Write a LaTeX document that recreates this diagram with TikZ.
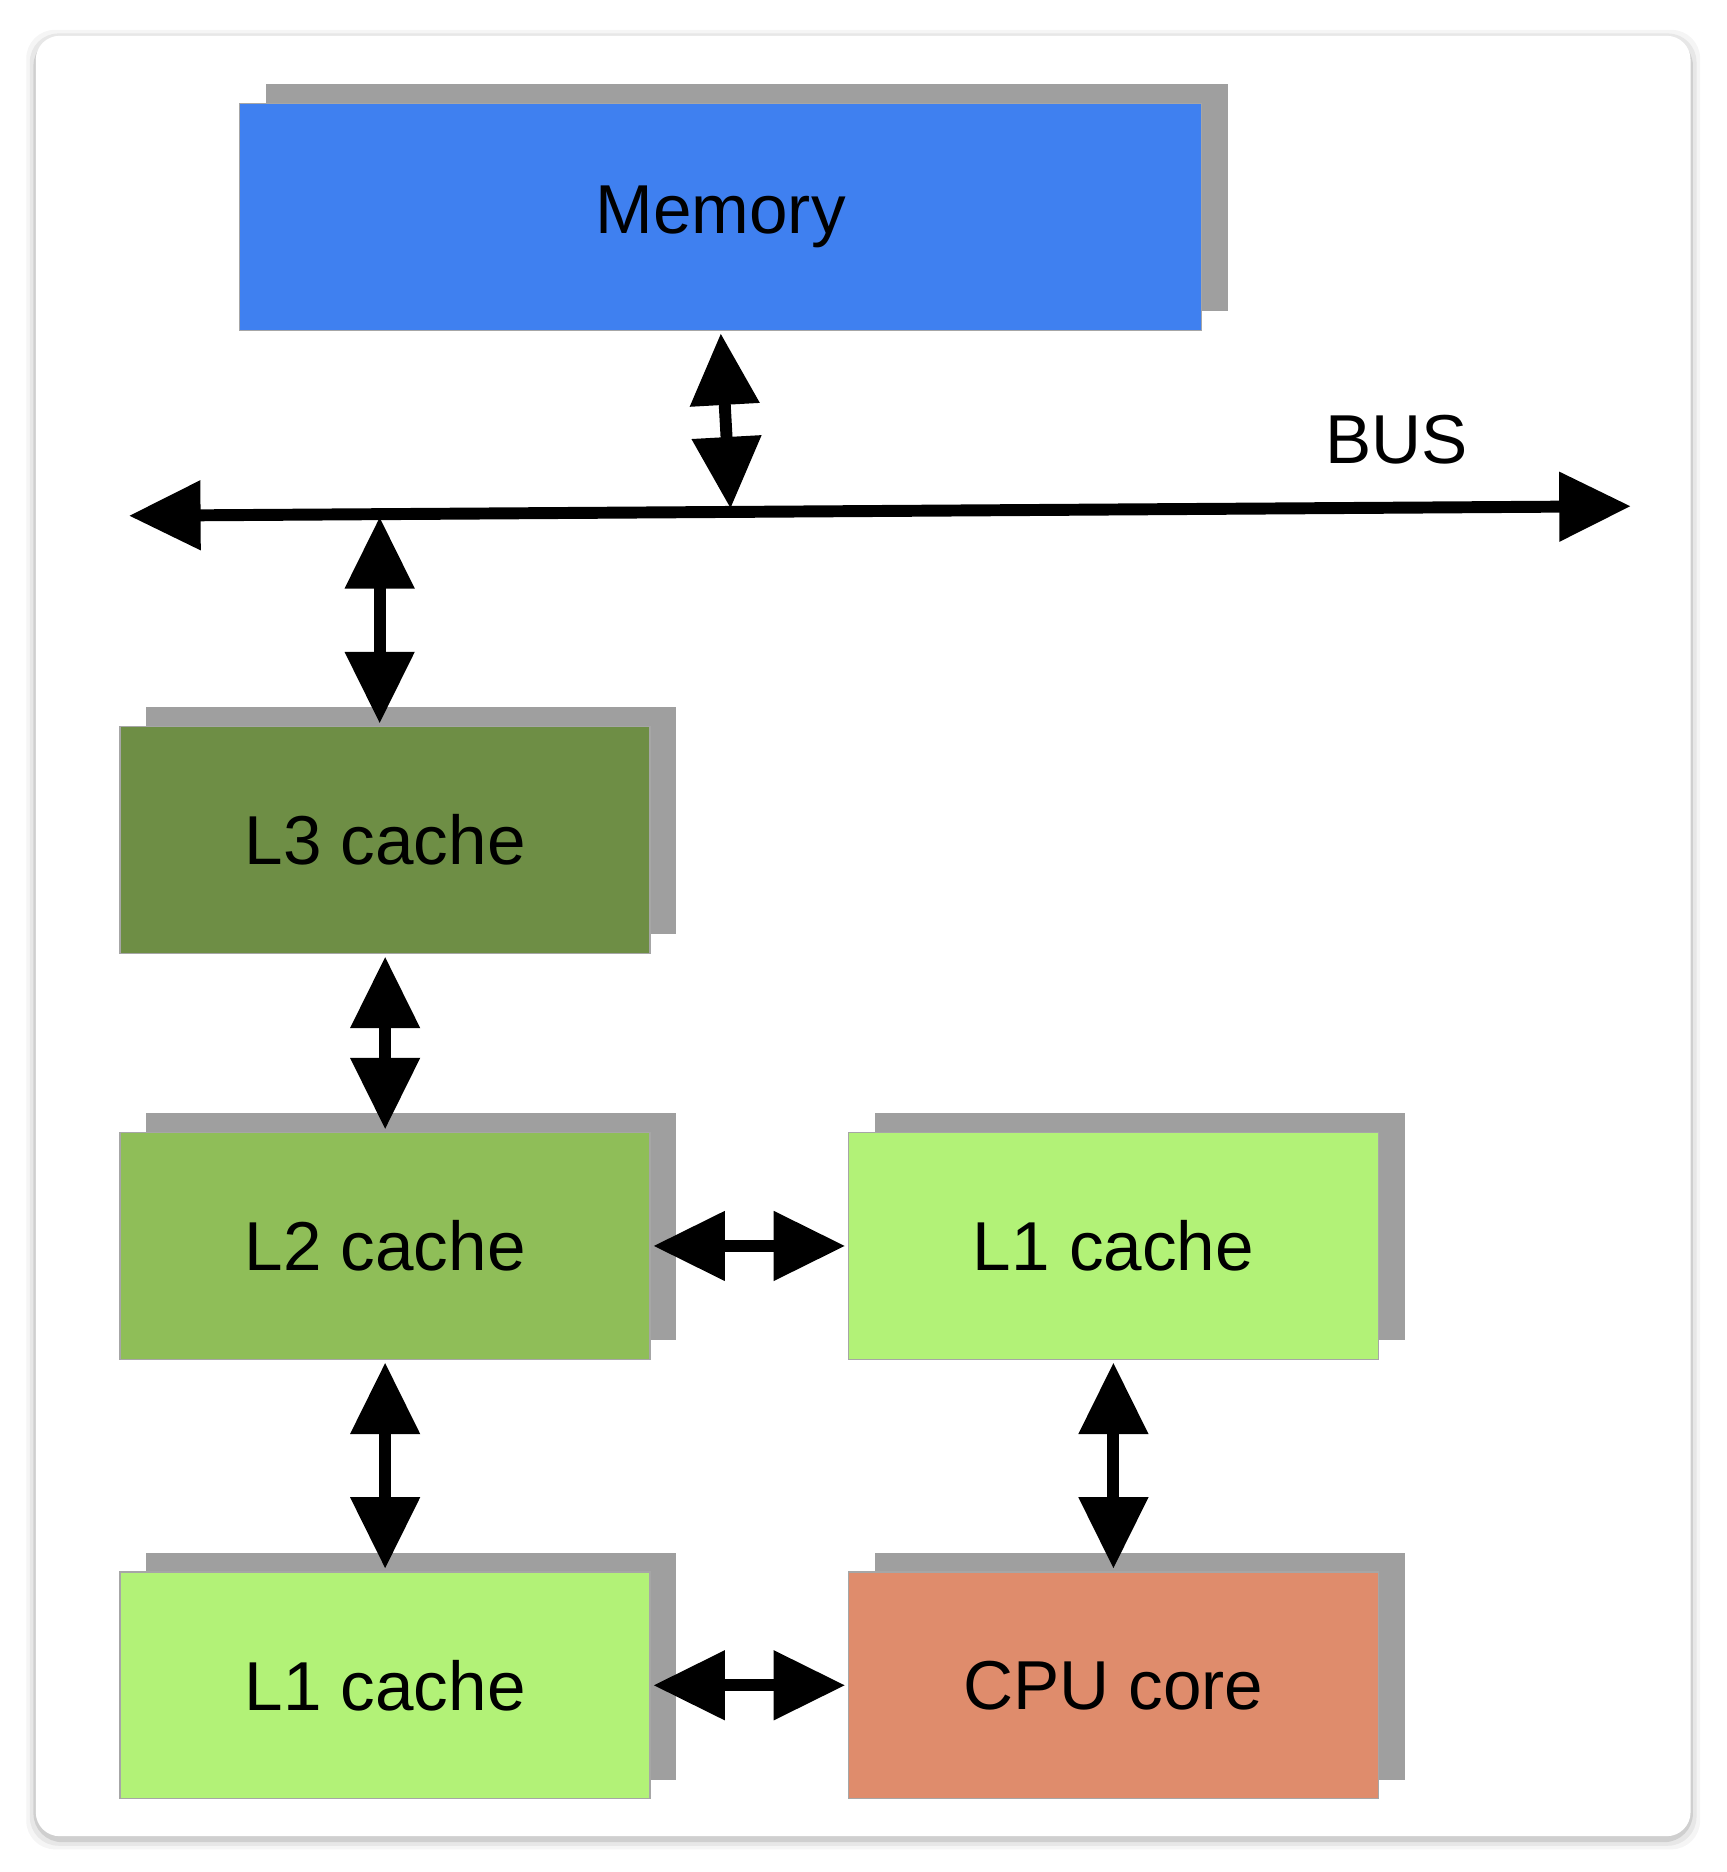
\documentclass[tikz,border=0pt]{standalone}
\usepackage{fontspec}
\setmainfont{Liberation Sans}
\usetikzlibrary{shadows,arrows.meta}

\begin{document}
\begin{tikzpicture}[x=0.5pt,y=-0.5pt,
  box/.style={draw=gray!70, line width=0.6pt, minimum width=222pt, minimum height=95pt,
    anchor=north west, font=\fontsize{29}{32}\selectfont,
    drop shadow={shadow xshift=11pt, shadow yshift=8pt, fill=gray!75, opacity=1}},
  link/.style={line width=5pt, {Triangle[length=30pt,width=28pt]}-{Triangle[length=30pt,width=28pt]}, shorten <=1pt, shorten >=1pt}]
  \useasboundingbox (0,0) rectangle (1446,1568);
  % card
  \foreach \d/\o in {8/0.04,5/0.06,2/0.1}
    \fill[black, opacity=\o, rounded corners=12pt] (30-\d,30-\d+3) rectangle (1416+\d,1538+\d+3);
  \fill[white, rounded corners=10pt] (30,30) rectangle (1416,1538);

  % boxes
  \node[box, fill={rgb,255:red,63;green,128;blue,240}, minimum width=403pt] (mem) at (200,86) {Memory};
  \node[box, fill={rgb,255:red,110;green,142;blue,69}] (l3) at (100,608) {L3 cache};
  \node[box, fill={rgb,255:red,143;green,190;blue,88}] (l2) at (100,948) {L2 cache};
  \node[box, fill={rgb,255:red,178;green,242;blue,119}] (l1b) at (710,948) {L1 cache};
  \node[box, fill={rgb,255:red,178;green,242;blue,119}] (l1a) at (100,1316) {L1 cache};
  \node[box, fill={rgb,255:red,223;green,140;blue,108}] (cpu) at (710,1316) {CPU core};

  % bus
  \coordinate (busL) at (108,432);
  \coordinate (busR) at (1366,424);
  \coordinate (busM) at (612,428);
  \coordinate (busA) at (318,431);
  \draw[link, shorten <=0pt, shorten >=0pt] (busL) -- (busR);
  \node[font=\fontsize{29}{32}\selectfont] (bus) at (1170,368) {BUS};

  % links
  \draw[link] (mem.south) -- (busM);
  \draw[link] (busA) -- (busA |- l3.north);
  \draw[link] (l3.south) -- (l2.north);
  \draw[link] (l2.east) -- (l1b.west);
  \draw[link] (l2.south) -- (l1a.north);
  \draw[link] (l1b.south) -- (cpu.north);
  \draw[link] (l1a.east) -- (cpu.west);
\end{tikzpicture}
\end{document}
